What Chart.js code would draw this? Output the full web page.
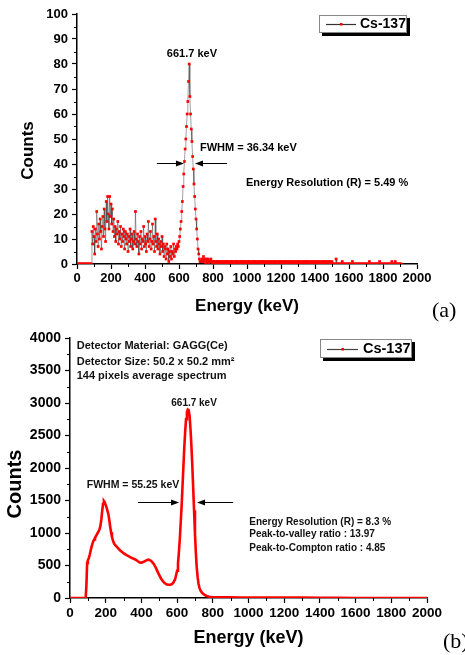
<!DOCTYPE html>
<html><head><meta charset="utf-8">
<script src="https://cdn.jsdelivr.net/npm/chart.js@4.4.1/dist/chart.umd.min.js"></script>
<style>
html,body{margin:0;padding:0;background:#fff;}
body{width:465px;height:655px;position:relative;overflow:hidden;}
canvas{position:absolute;left:0;display:block;}
#ca{top:0;}
#cb{top:325px;}
</style></head><body>
<canvas id="ca" width="465" height="325"></canvas>
<canvas id="cb" width="465" height="330"></canvas>
<script>
// ================= DATA (a) : Cs-137, 4 keV channels =================
const chanStepA = 4;
const startA0 = 0;     // 0 - 84 keV
const countsA0 = [0,0,0,0,0,0,0,0,0,0,0,0,0,0,0,0,0,0,0,0,0,0];
const startA1 = 88;    // 88 - 596 keV (Compton region)
const countsA1 = [
 13,8,15,11,4,14,9,21,12,7,
 16,10,18,13,6,15,19,11,22,14,
 9,25,17,27,20,14,27,19,24,16,
 22,13,18,11,15,9,14,12,17,8,
 13,10,15,7,12,9,14,11,6,13,
 10,8,12,5,11,9,14,7,10,12,
 6,9,13,8,21,10,7,12,9,4,
 11,8,13,6,10,9,15,7,11,8,
 5,12,9,17,7,10,13,6,9,16,
 8,11,5,18,9,7,12,6,10,8,
 4,9,7,11,5,8,3,7,6,2,
 8,4,6,1,5,3,7,2,5,4,
 8,3,6,5,7,6,8,7];
const startA2 = 600;   // 600 - 728 keV (photopeak)
const countsA2 = [9,11,14,17,21,25,31,36,41,46,50,55,60,65,73,80,67,60,54,49,43,38,32,27,22,18,14,10,6,4,2,1,1];
const startA3 = 732;   // 732 - 1908 keV (tail)
const countsA3 = [
 1,2,1,3,1,2,0,2,1,1,2,0,1,1,2,1,0,1,
 1,0,1,1,0,1,0,1,1,0, 0,1,1,0,1,0,0,1,1,0, 1,1,0,0,1,0,1,1,0,1, 0,0,1,1,0,1,0,1,0,0, 1,1,0,1,0,1,1,0,0,1,
 0,1,1,0,1,0,0,1,0,1, 1,0,1,0,0,1,1,0,0,1, 0,1,0,1,1,0,0,1,0,1, 0,0,1,1,0,1,0,0,1,0, 1,1,0,0,1,0,1,0,0,1,
 1,0,0,1,0,1,1,0,0,1, 0,1,0,0,1,1,0,0,1,0, 1,0,0,1,0,1,1,0,0,1, 0,0,1,0,1,0,0,1,1,0, 0,1,0,0,1,0,1,0,0,1,
 0,1,0,0,1,0,1,0,0,1, 0,0,1,1,0,0,1,0,0,1, 0,1,0,0,1,
 0,0,0,0,0,2,0,0,0,0, 0,0,0,0,1,0,0,0,0,0, 0,0,0,0,0,0,0,0,0,1, 0,0,0,0,0,0,0,0,0,0,
 0,0,0,0,0,0,0,0,0,0, 0,0,0,0,1,0,0,0,0,0, 0,0,0,0,0,0,0,0,0,1, 0,0,0,0,0,0,0,0,0,0,
 0,0,0,0,0,0,0,1,0,0, 0,0,1,0,0,0,0,0,0,0, 0,0];

// ================= DATA (b) : 144 pixels average spectrum =================
const energiesB = [
 0,20,40,60,80,88,92,96,100,105,
 110,115,120,125,130,135,140,145,150,155,
 160,165,170,175,180,185,190,195,200,205,
 210,215,220,225,230,235,240,245,250,260,
 270,280,290,300,310,320,330,340,350,360,
 370,380,390,400,410,420,430,440,450,460,
 470,480,490,500,510,520,530,540,550,560,
 570,580,590,600,605,610,615,620,625,630,
 635,640,645,650,655,660,665,670,675,680,
 685,690,695,700,705,710,715,720,725,730,
 740,750,760,770,780,790,800,850,900,950,
 1000,1100,1200,1300,1400,1450,1500,1600,1700,1800,
 1900,2000];
const countsB = [
 0,0,0,0,0,5,200,540,580,610,
 660,720,780,830,870,900,925,950,975,1000,
 1025,1055,1100,1200,1330,1450,1490,1470,1430,1390,
 1340,1290,1200,1100,1010,940,890,850,825,795,
 765,735,710,690,672,655,640,625,612,600,
 585,565,548,545,553,568,583,590,580,556,
 520,470,410,350,300,260,230,212,205,205,
 212,240,300,420,530,700,900,1150,1400,1700,
 2000,2300,2550,2750,2860,2900,2890,2800,2600,2350,
 2050,1700,1350,1000,700,470,320,220,160,120,
 80,55,38,25,18,14,12,10,9,8,
 8,7,6,6,5,4,2,1,1,0,
 0,0];

// ================= TICKS =================
const xTicksA = [0,200,400,600,800,1000,1200,1400,1600,1800,2000];
const yTicksA = [0,10,20,30,40,50,60,70,80,90,100];
const xTicksB = [0,200,400,600,800,1000,1200,1400,1600,1800,2000];
const yTicksB = [0,500,1000,1500,2000,2500,3000,3500,4000];

// ================= build =================
const FONT = "'Liberation Sans', Arial, Helvetica, sans-serif";
const SERIF = "'Liberation Serif', 'Times New Roman', serif";
Chart.defaults.font.family = FONT;
Chart.defaults.color = '#000';

function seg(start, step, vals) { return vals.map((v, i) => ({x: start + i * step, y: v})); }
const pointsA = [].concat(
  seg(startA0, chanStepA, countsA0), seg(startA1, chanStepA, countsA1),
  seg(startA2, chanStepA, countsA2), seg(startA3, chanStepA, countsA3));
const pointsB = energiesB.map((e, i) => ({x: e, y: countsB[i]}));

const notesPlugin = {
  id: 'notes',
  afterDraw(chart, args, o) {
    const ctx = chart.ctx, xs = chart.scales.x, ys = chart.scales.y, ca = chart.chartArea;
    ctx.save();
    // minor ticks (midpoints of major ticks)
    const mids = t => t.slice(1).map((v, i) => (v + t[i]) / 2);
    ctx.strokeStyle = '#000'; ctx.lineWidth = 1;
    mids(o.xTicks).forEach(v => {
      const px = Math.round(xs.getPixelForValue(v)) + 0.5;
      ctx.beginPath(); ctx.moveTo(px, ca.bottom); ctx.lineTo(px, ca.bottom + o.minorLen); ctx.stroke();
    });
    mids(o.yTicks).forEach(v => {
      const py = Math.round(ys.getPixelForValue(v)) + 0.5;
      ctx.beginPath(); ctx.moveTo(ca.left, py); ctx.lineTo(ca.left - o.minorLen, py); ctx.stroke();
    });
    // y axis title
    ctx.save();
    ctx.translate(o.yTitle.x, o.yTitle.y); ctx.rotate(-Math.PI / 2);
    ctx.font = `bold ${o.yTitle.size}px ${FONT}`; ctx.fillStyle = '#000';
    ctx.textAlign = 'center'; ctx.textBaseline = 'middle';
    ctx.fillText(o.yTitle.text, 0, 0);
    ctx.restore();
    // annotation texts (data coordinates)
    o.texts.forEach(t => {
      ctx.font = `bold ${t.size}px ${FONT}`; ctx.fillStyle = t.color || '#000';
      ctx.textAlign = t.align || 'left'; ctx.textBaseline = 'middle';
      ctx.fillText(t.text, xs.getPixelForValue(t.x), ys.getPixelForValue(t.y));
    });
    // arrows (data coordinates)
    ctx.strokeStyle = '#000'; ctx.fillStyle = '#000'; ctx.lineWidth = 1;
    o.arrows.forEach(a => {
      const x0 = xs.getPixelForValue(a.from), x1 = xs.getPixelForValue(a.to);
      const y = Math.round(ys.getPixelForValue(a.y)) + 0.5;
      const d = Math.sign(x1 - x0);
      ctx.beginPath(); ctx.moveTo(x0, y); ctx.lineTo(x1 - d * 4, y); ctx.stroke();
      ctx.beginPath(); ctx.moveTo(x1, y); ctx.lineTo(x1 - d * 8, y - 3); ctx.lineTo(x1 - d * 8, y + 3); ctx.closePath(); ctx.fill();
    });
    // legend box with shadow
    const L = o.legend, bx = ca.right - L.dx, by = ca.top + L.dy;
    ctx.fillStyle = '#000'; ctx.fillRect(bx + 3, by + 3, L.w, L.h);
    ctx.fillStyle = '#fff'; ctx.fillRect(bx, by, L.w, L.h);
    ctx.strokeStyle = '#888'; ctx.lineWidth = 1; ctx.strokeRect(bx + 0.5, by + 0.5, L.w - 1, L.h - 1);
    const ly = Math.round(by + L.h / 2) + 0.5;
    ctx.strokeStyle = L.lineColor; ctx.lineWidth = 1.2;
    ctx.beginPath(); ctx.moveTo(bx + L.lx0, ly); ctx.lineTo(bx + L.lx1, ly); ctx.stroke();
    ctx.fillStyle = '#f00'; ctx.fillRect(bx + (L.lx0 + L.lx1) / 2 - 1, ly - 1.5, 2.5, 2.5);
    ctx.fillStyle = '#000'; ctx.font = `bold ${L.size}px ${FONT}`;
    ctx.textAlign = 'left'; ctx.textBaseline = 'middle';
    ctx.fillText(chart.data.datasets[0].label, bx + L.tx, by + L.h / 2 + 0.5);
    // panel label
    ctx.font = `${o.panel.size}px ${SERIF}`; ctx.fillStyle = '#000';
    ctx.textAlign = 'left'; ctx.textBaseline = 'middle';
    ctx.fillText(o.panel.text, o.panel.x, o.panel.y);
    ctx.restore();
  }
};

function axis(ticksArr, min, max, fontSize, fit, horizontal, title) {
  const a = {
    type: 'linear', min: min, max: max,
    afterBuildTicks: s => { s.ticks = ticksArr.map(v => ({value: v})); },
    afterFit: s => { if (horizontal) s.height = fit; else s.width = fit; },
    ticks: {font: {size: fontSize, weight: 'bold'}, color: '#000', padding: horizontal ? 2 : 4,
            maxRotation: 0, autoSkip: false, callback: v => String(v)},
    grid: {drawOnChartArea: false, drawTicks: true, tickLength: 5, tickColor: '#000', tickWidth: 1.2},
    border: {display: true, color: '#000', width: 1.5}
  };
  if (title) a.title = title; else a.title = {display: false};
  return a;
}

new Chart(document.getElementById('ca'), {
  type: 'line',
  data: {datasets: [{
    label: 'Cs-137', data: pointsA,
    borderColor: 'rgba(40,40,40,0.55)', borderWidth: 0.8,
    pointStyle: 'rect', pointRadius: 1.9, pointBackgroundColor: '#ff0000', pointBorderWidth: 0,
    pointHoverRadius: 0, tension: 0
  }]},
  options: {
    responsive: false, animation: false, events: [],
    layout: {padding: {top: 14, right: 48, left: 0, bottom: 0}},
    plugins: {
      legend: {display: false}, tooltip: {enabled: false},
      notes: {
        xTicks: xTicksA, yTicks: yTicksA, minorLen: 3,
        yTitle: {text: 'Counts', x: 28.5, y: 150.5, size: 17},
        texts: [
          {text: '661.7 keV', x: 676, y: 84, size: 11, align: 'center'},
          {text: 'FWHM = 36.34 keV', x: 723, y: 46.3, size: 11},
          {text: 'Energy Resolution (R) = 5.49 %', x: 994, y: 32.4, size: 11}
        ],
        arrows: [{from: 470, to: 629, y: 40.6}, {from: 882, to: 694, y: 40.6}],
        legend: {dx: 98, dy: 1, w: 88, h: 18, lx0: 7, lx1: 37, tx: 41, size: 14, lineColor: '#333'},
        panel: {text: '(a)', x: 432, y: 311, size: 22}
      }
    },
    scales: {
      x: axis(xTicksA, 0, 2000, 13, 61, true,
        {display: true, text: 'Energy (keV)', color: '#000', font: {size: 17, weight: 'bold'}, padding: {top: 0, bottom: 8}}),
      y: axis(yTicksA, 0, 100, 13, 77, false, null)
    }
  },
  plugins: [notesPlugin]
});

new Chart(document.getElementById('cb'), {
  type: 'line',
  data: {datasets: [{
    label: 'Cs-137', data: pointsB,
    borderColor: '#ff0000', borderWidth: 2.6, pointRadius: 0, pointHoverRadius: 0, tension: 0
  }]},
  options: {
    responsive: false, animation: false, events: [],
    layout: {padding: {top: 13, right: 38, left: 0, bottom: 0}},
    plugins: {
      legend: {display: false}, tooltip: {enabled: false},
      notes: {
        xTicks: xTicksB, yTicks: yTicksB, minorLen: 3,
        yTitle: {text: 'Counts', x: 15.8, y: 159, size: 20},
        texts: [
          {text: 'Detector Material: GAGG(Ce)', x: 37.6, y: 3882, size: 11, color: '#111'},
          {text: 'Detector Size: 50.2 x 50.2 mm\u00B2', x: 37.6, y: 3635, size: 11, color: '#111'},
          {text: '144 pixels average spectrum', x: 37.6, y: 3409, size: 11, color: '#111'},
          {text: '661.7 keV', x: 695, y: 3000, size: 10, align: 'center', color: '#111'},
          {text: 'FWHM = 55.25 keV', x: 353, y: 1732, size: 10.5, align: 'center', color: '#111'},
          {text: 'Energy Resolution (R) = 8.3 %', x: 1004, y: 1169, size: 10, color: '#111'},
          {text: 'Peak-to-valley ratio : 13.97', x: 1004, y: 985, size: 10, color: '#111'},
          {text: 'Peak-to-Compton ratio : 4.85', x: 1004, y: 769, size: 10, color: '#111'}
        ],
        arrows: [{from: 381, to: 611, y: 1477}, {from: 914, to: 712, y: 1477}],
        legend: {dx: 107, dy: 1, w: 92, h: 19, lx0: 7, lx1: 38, tx: 43, size: 14.5, lineColor: '#444'},
        panel: {text: '(b)', x: 443, y: 317.7, size: 22}
      }
    },
    scales: {
      x: axis(xTicksB, 0, 2000, 13.5, 57, true,
        {display: true, text: 'Energy (keV)', color: '#000', font: {size: 18, weight: 'bold'}, padding: {top: 0, bottom: 6.5}}),
      y: axis(yTicksB, 0, 4000, 14, 70, false, null)
    }
  },
  plugins: [notesPlugin]
});
</script>
</body></html>
